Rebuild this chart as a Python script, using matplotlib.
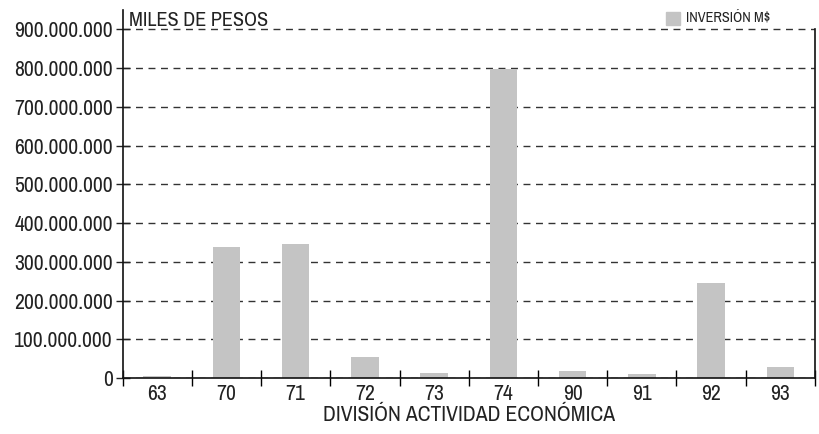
import matplotlib.pyplot as plt
from matplotlib.ticker import FuncFormatter, FixedLocator
from matplotlib.patches import Rectangle
from matplotlib import font_manager

# inversion por division de actividad economica (miles de pesos)
divisiones = ["63", "70", "71", "72", "73", "74", "90", "91", "92", "93"]
inversion = [5e6, 339e6, 345e6, 55e6, 14e6, 798e6, 19e6, 11e6, 246e6, 29e6]

# buscar una fuente angosta; si no hay, Liberation Sans
nombres = sorted(set(f.name for f in font_manager.fontManager.ttflist))
angostas = [n for n in nombres if "Condensed" in n or "Narrow" in n]
fuente = angostas[0] if angostas else "Liberation Sans"
plt.rcParams["font.family"] = [fuente, "DejaVu Sans"]
k = 1.0 if angostas else 0.85
tam = 15.6 * k

fig = plt.figure(figsize=(8.19, 4.34), dpi=100)
ax = fig.add_axes([0.1496, 0.129, 0.8455, 0.848])

x = list(range(len(divisiones)))
ax.bar(x, inversion, width=0.4, color="#c4c4c4", zorder=2)

ax.set_xlim(-0.5, len(divisiones) - 0.5)
ax.set_ylim(0, 950e6)

ax.set_yticks([i * 100e6 for i in range(10)])
ax.yaxis.set_major_formatter(FuncFormatter(lambda v, p: f"{int(v):,}".replace(",", ".")))
ax.yaxis.grid(True, linestyle=(0, (5, 4)), color="#333333", linewidth=1.0, zorder=1)
ax.set_axisbelow(True)

ax.set_xticks(x)
ax.set_xticklabels(divisiones)
ax.xaxis.set_minor_locator(FixedLocator([i + 0.5 for i in range(-1, len(divisiones))]))
ax.tick_params(axis="x", which="major", length=0, pad=4, labelsize=tam, colors="#222222")
ax.tick_params(axis="x", which="minor", direction="inout", length=12, width=1.0)
ax.tick_params(axis="y", direction="inout", length=10, width=1.0, labelsize=tam,
               pad=2, colors="#222222")

for s in ["left", "bottom", "right"]:
    ax.spines[s].set_linewidth(1.2)
    ax.spines[s].set_color("#111111")
ax.spines["top"].set_visible(False)
ax.spines["right"].set_bounds(0, 900e6)

ax.set_xlabel("DIVISIÓN ACTIVIDAD ECONÓMICA", fontsize=tam, color="#222222", labelpad=1)
ax.text(0.01, 0.997, "MILES DE PESOS", transform=ax.transAxes, fontsize=14.6 * k,
        color="#222222", va="top", ha="left")

# leyenda
fig.patches.append(Rectangle((666 / 819, 1 - 25 / 434), 14 / 819, 13 / 434,
                             transform=fig.transFigure, color="#c4c4c4"))
fig.text(686 / 819, 1 - 18.5 / 434, "INVERSIÓN M$", fontsize=10.3 * k, color="#222222",
         va="center", ha="left")

fig.savefig("out.png", dpi=100)
